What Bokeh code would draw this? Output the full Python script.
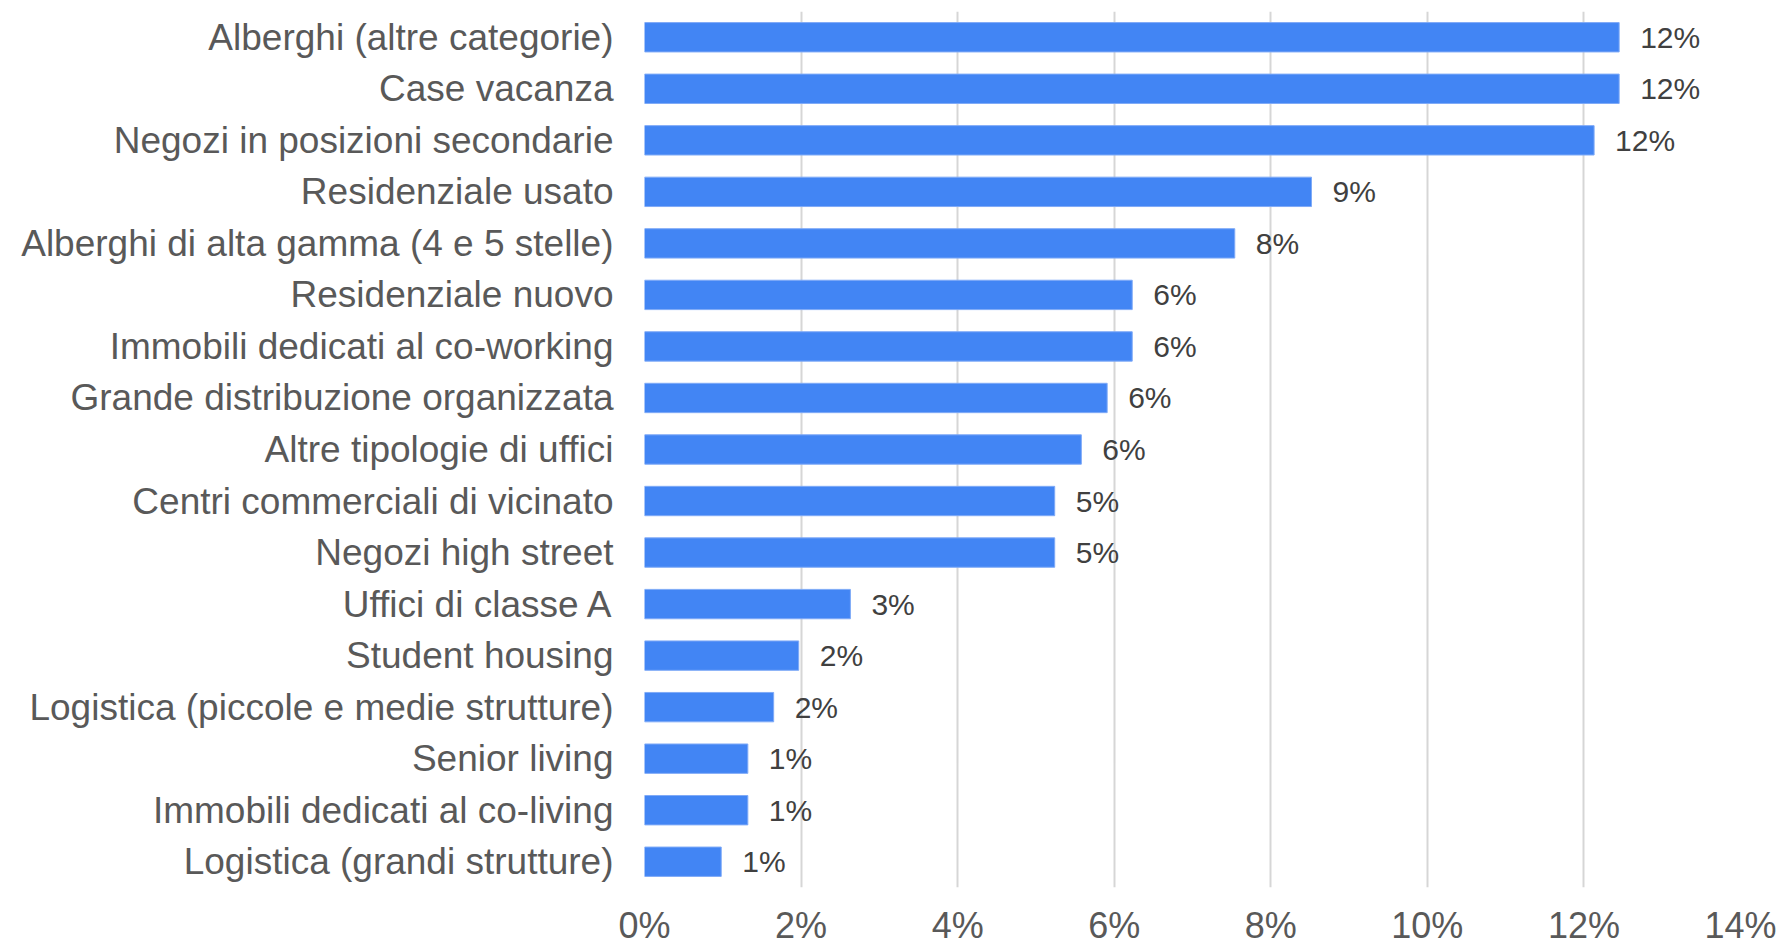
from bokeh.plotting import figure
from bokeh.models import ColumnDataSource, FactorRange, Range1d, LabelSet, FixedTicker, NumeralTickFormatter
from bokeh.core.properties import value
from bokeh.embed import file_html
from bokeh.resources import INLINE

categories = [
    "Alberghi (altre categorie)",
    "Case vacanza",
    "Negozi in posizioni secondarie",
    "Residenziale usato",
    "Alberghi di alta gamma (4 e 5 stelle)",
    "Residenziale nuovo",
    "Immobili dedicati al co-working",
    "Grande distribuzione organizzata",
    "Altre tipologie di uffici",
    "Centri commerciali di vicinato",
    "Negozi high street",
    "Uffici di classe A",
    "Student housing",
    "Logistica (piccole e medie strutture)",
    "Senior living",
    "Immobili dedicati al co-living",
    "Logistica (grandi strutture)",
]
values = [0.1245, 0.1245, 0.1213, 0.0852, 0.0754, 0.0623, 0.0623, 0.0591, 0.0558,
          0.0524, 0.0524, 0.0263, 0.0197, 0.0165, 0.0132, 0.0132, 0.0098]
labels = ["12%", "12%", "12%", "9%", "8%", "6%", "6%", "6%", "6%",
          "5%", "5%", "3%", "2%", "2%", "1%", "1%", "1%"]
x_ticks = [0, 0.02, 0.04, 0.06, 0.08, 0.10, 0.12, 0.14]

FONT = "Liberation Sans"

src = ColumnDataSource(dict(cat=categories, val=values, lab=labels))

p = figure(
    width=1780, height=949,
    y_range=FactorRange(factors=list(reversed(categories)), range_padding=0),
    x_range=Range1d(0, 0.14),
    output_backend="svg", toolbar_location=None,
    min_border_left=644, min_border_right=40, min_border_top=11, min_border_bottom=62,
)
p.outline_line_color = None
p.background_fill_color = "white"
p.border_fill_color = "white"

p.hbar(y="cat", right="val", left=0, height=0.57, source=src,
       fill_color="#4285F4", line_color="#7FAAF7", line_width=1)

lbl = LabelSet(x="val", y="cat", text="lab", source=src, x_offset=21,
               text_baseline="middle", text_align="left",
               text_font=value(FONT), text_font_size="30px", text_color="#404040")
p.add_layout(lbl)

# grids
p.ygrid.grid_line_color = None
p.xgrid.ticker = FixedTicker(ticks=x_ticks)
p.xgrid.grid_line_color = "#D6D6D6"
p.xgrid.grid_line_width = 2

# x axis
p.xaxis.ticker = FixedTicker(ticks=x_ticks)
p.xaxis.formatter = NumeralTickFormatter(format="0%")
p.xaxis.axis_line_color = None
p.xaxis.major_tick_line_color = None
p.xaxis.minor_tick_line_color = None
p.xaxis.major_tick_out = 0
p.xaxis.major_tick_in = 0
p.xaxis.major_label_standoff = 17
p.xaxis.major_label_text_font = FONT
p.xaxis.major_label_text_font_size = "36px"
p.xaxis.major_label_text_color = "#595959"

# y axis
p.yaxis.axis_line_color = None
p.yaxis.major_tick_line_color = None
p.yaxis.minor_tick_line_color = None
p.yaxis.major_tick_out = 0
p.yaxis.major_tick_in = 0
p.yaxis.major_label_standoff = 31
p.yaxis.major_label_text_font = FONT
p.yaxis.major_label_text_font_size = "37px"
p.yaxis.major_label_text_color = "#595959"

open("out.html", "w").write(file_html(p, INLINE))
